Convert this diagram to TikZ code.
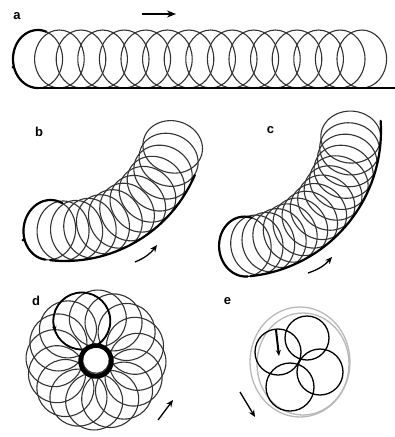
\documentclass[tikz,border=0pt]{standalone}
\usepackage{fontspec}
\setmainfont{Liberation Sans}
\usetikzlibrary{arrows.meta}
\begin{document}
\begin{tikzpicture}[x=1pt,y=-1pt,
  orbit/.style={line width=1.1pt, black!80, line join=round},
  heavy/.style={line width=2.2pt, black, line cap=round, line join=round},
  lab/.style={font=\fontsize{13}{13}\selectfont\bfseries, inner sep=0pt},
  mov/.style={line width=1.3pt, -{Stealth[length=7pt,width=6pt]}},
  ring/.style={gray!55, line width=1.3pt},
  declare function={
    ex(\px,\ph,\a,\b,\t)=\px+\a*cos(\t)*sin(\ph)+\b*sin(\t)*cos(\ph);
    ey(\py,\ph,\a,\b,\t)=\py-\a*cos(\t)*cos(\ph)+\b*sin(\t)*sin(\ph);
  }]
\fill[white] (0,0) rectangle (395,437);
\useasboundingbox (0,0) rectangle (395,437);

% ---- panel a
\foreach \k in {0,...,15}
  \draw[orbit] ({37.8+21.6*\k},59) ellipse[x radius=24.8, y radius=29];
\draw[heavy] plot[domain=90:290, samples=40] ({37.8+24.8*cos(\x)},{59+29*sin(\x)});
\coordinate (abl) at (38,88);
\coordinate (abr) at (395,88);
\draw[heavy] (abl) -- (abr);
\fill (13,67) circle[radius=1.5];
\node[lab] (la) at (17,16.5) {a};
\coordinate (a1) at (142,14);
\coordinate (a2) at (176,14);
\draw[line width=1.6pt, -{Stealth[length=9pt,width=7pt]}] (a1) -- (a2);

% ---- panel b
\foreach \k in {0,...,12} {
  \pgfmathsetmacro\ph{98-7*\k}
  \pgfmathsetmacro\px{65+111*cos(\ph)}
  \pgfmathsetmacro\py{120+111*sin(\ph)}
  \draw[orbit] plot[domain=0:360, samples=61]
    ({ex(\px,\ph,26,30,\x)},{ey(\py,\ph,26,30,\x)}) -- cycle;
}
\pgfmathsetmacro\pbx{65+111*cos(98)}
\pgfmathsetmacro\pby{120+111*sin(98)}
\draw[heavy] plot[domain=90:290, samples=40] ({ex(\pbx,98,26,30,\x)},{ey(\pby,98,26,30,\x)});
\draw[heavy] plot[domain=23:96, samples=40] ({65+141*cos(\x)},{120+141*sin(\x)});
\fill (23,240) circle[radius=1.5];
\node[lab] (lb) at (39,132) {b};
\coordinate (b1) at (135,262);
\coordinate (b2) at (157,245);
\draw[mov] (b1) to[bend right=15] (b2);

% ---- panel c
\foreach \k in {0,...,14} {
  \pgfmathsetmacro\ph{85-82/14*\k}
  \pgfmathsetmacro\px{235+116*cos(\ph)}
  \pgfmathsetmacro\py{131+116*sin(\ph)}
  \draw[orbit] plot[domain=0:360, samples=61]
    ({ex(\px,\ph,26,30,\x)},{ey(\py,\ph,26,30,\x)}) -- cycle;
}
\pgfmathsetmacro\pcx{235+116*cos(85)}
\pgfmathsetmacro\pcy{131+116*sin(85)}
\draw[heavy] plot[domain=90:290, samples=40] ({ex(\pcx,85,26,30,\x)},{ey(\pcy,85,26,30,\x)});
\draw[heavy] plot[domain=-4:84, samples=40] ({235+146*cos(\x)},{131+146*sin(\x)});
\node[lab] (lc) at (270.5,130.5) {c};
\coordinate (c1) at (308,273);
\coordinate (c2) at (332,257);
\draw[mov] (c1) to[bend right=15] (c2);

% ---- panel d
\foreach \k in {0,...,15}
  \draw[orbit] ({96+41.5*cos(2.5+22.5*\k)},{360+41.5*sin(2.5+22.5*\k)}) circle[radius=28.5];
\draw[line width=1.8pt] ({96+41.5*cos(250)},{360+41.5*sin(250)}) circle[radius=28.5];
\draw[line width=4.5pt] (96,361) circle[radius=15.5];
\coordinate (d3) at (53.4,323.5);
\coordinate (d4) at (55.5,331);
\draw[line width=1.2pt,-{Stealth[length=5pt,width=4.5pt]}] (d3) -- (d4);
\node[lab] (ld) at (36,301) {d};
\coordinate (d1) at (158,420);
\coordinate (d2) at (173,400);
\draw[mov] (d1) -- (d2);

% ---- panel e
\draw[ring] (300,362) ellipse[x radius=50, y radius=55];
\draw[ring] (303,364) ellipse[x radius=46, y radius=51];
\draw[line width=1.3pt] (307,338) circle[radius=22];
\draw[line width=1.3pt] (278,352) circle[radius=23];
\draw[line width=1.3pt] (290,387) circle[radius=24];
\draw[line width=1.3pt] (320,372) circle[radius=23];
\coordinate (e3) at (276,330);
\coordinate (e4) at (279,356);
\draw[line width=2pt,-{Stealth[length=6pt,width=5pt]}] (e3) -- (e4);
\node[lab] (le) at (227.5,301) {e};
\coordinate (e1) at (240,392);
\coordinate (e2) at (255,417);
\draw[mov] (e1) -- (e2);
\end{tikzpicture}
\end{document}
